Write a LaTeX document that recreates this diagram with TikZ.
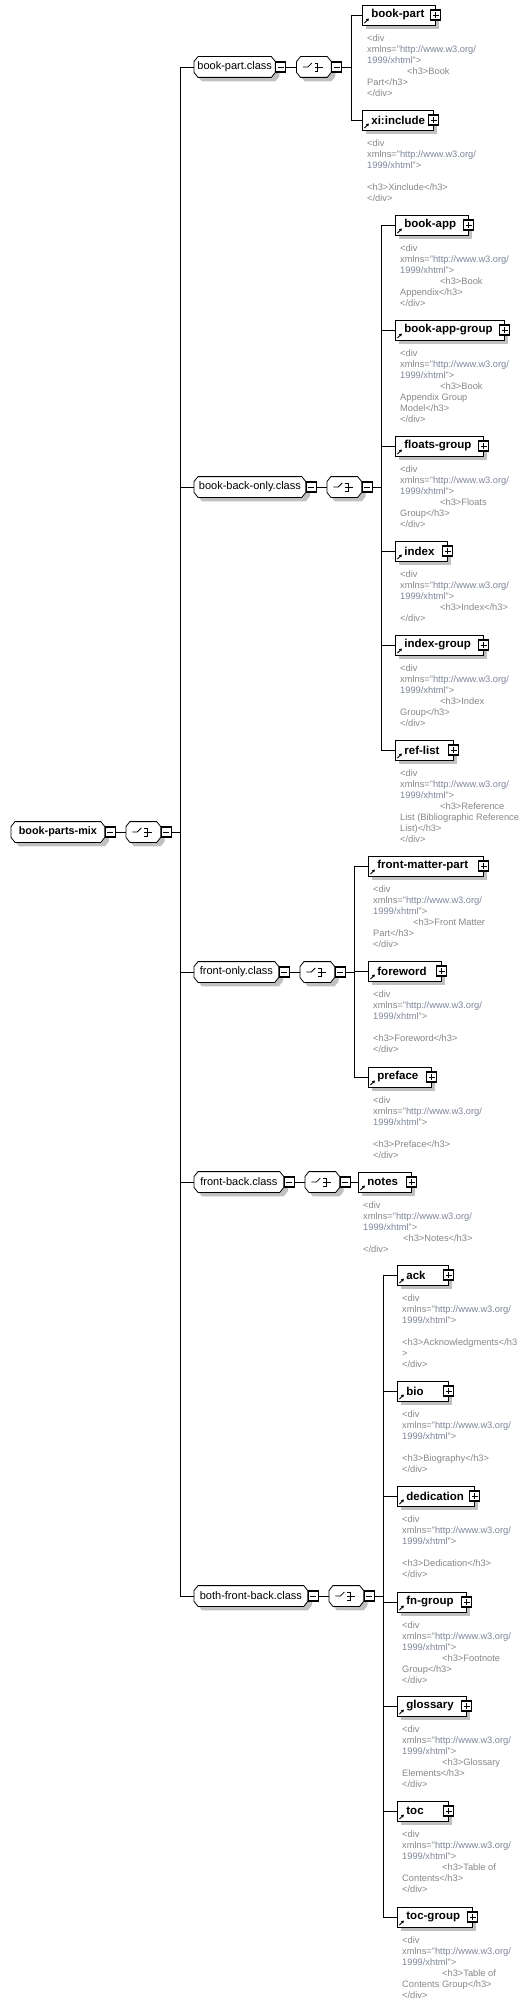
\documentclass[tikz,border=0pt]{standalone}
\usepackage{fontspec}
\setmainfont{Liberation Sans}
\usetikzlibrary{arrows.meta, positioning, shadows}

\definecolor{annogray}{RGB}{135,135,135}
\definecolor{annourl}{RGB}{126,134,154}
\definecolor{boxshadow}{RGB}{192,192,192}

\newcommand{\annofont}{\fontsize{9.3}{11}\selectfont}
\newcommand{\classfont}{\fontsize{11}{13}\selectfont}
\newcommand{\rootfont}{\fontsize{10.8}{13}\selectfont\bfseries}
\newcommand{\elemfont}{\fontsize{11.5}{13}\selectfont\bfseries}
\newcommand{\divhead}{<div\\xmlns="\textcolor{annourl}{http://www.w3.org/}\\\textcolor{annourl}{1999/xhtml}">}
\newcommand{\hthree}[1]{\hspace*{40pt}#1}

% octagon with small cut corners
\newdimen\octL \newdimen\octR \newdimen\octB \newdimen\octT
\makeatletter
\pgfdeclareshape{octabox}{%
  \inheritsavedanchors[from=rectangle]%
  \inheritanchorborder[from=rectangle]%
  \inheritanchor[from=rectangle]{center}%
  \inheritanchor[from=rectangle]{mid}%
  \inheritanchor[from=rectangle]{base}%
  \inheritanchor[from=rectangle]{north}%
  \inheritanchor[from=rectangle]{south}%
  \inheritanchor[from=rectangle]{east}%
  \inheritanchor[from=rectangle]{west}%
  \inheritanchor[from=rectangle]{north east}%
  \inheritanchor[from=rectangle]{north west}%
  \inheritanchor[from=rectangle]{south east}%
  \inheritanchor[from=rectangle]{south west}%
  \backgroundpath{%
    \southwest \global\octL=\pgf@x \global\octB=\pgf@y
    \northeast \global\octR=\pgf@x \global\octT=\pgf@y
    \pgfpathmoveto{\pgfqpoint{\dimexpr\octL+4pt\relax}{\octB}}%
    \pgfpathlineto{\pgfqpoint{\dimexpr\octR-4pt\relax}{\octB}}%
    \pgfpathlineto{\pgfqpoint{\octR}{\dimexpr\octB+5pt\relax}}%
    \pgfpathlineto{\pgfqpoint{\octR}{\dimexpr\octT-5pt\relax}}%
    \pgfpathlineto{\pgfqpoint{\dimexpr\octR-4pt\relax}{\octT}}%
    \pgfpathlineto{\pgfqpoint{\dimexpr\octL+4pt\relax}{\octT}}%
    \pgfpathlineto{\pgfqpoint{\octL}{\dimexpr\octT-5pt\relax}}%
    \pgfpathlineto{\pgfqpoint{\octL}{\dimexpr\octB+5pt\relax}}%
    \pgfpathclose
  }%
}
\makeatother

\tikzset{
  flatshadow/.style={general shadow={fill=boxshadow, shadow xshift=4pt, shadow yshift=-4pt}},
  octa/.style={
    octabox, draw, fill=white, line width=0.8pt,
    minimum height=20pt, inner xsep=3pt, inner ysep=0pt,
    anchor=west, font=\classfont, flatshadow
  },
  seqbox/.style={
    octa, minimum width=34pt,
    path picture={
      \coordinate (c) at (path picture bounding box.center);
      \draw[line width=0.8pt] ([xshift=-11pt]c) -- ([xshift=-6pt]c) -- ([shift={(-2pt,4pt)}]c);
      \foreach \dy in {-4,0,4}
        \fill ([shift={(-1.2pt,\dy pt-1.2pt)}]c) rectangle ++(2.4pt,2.4pt);
      \draw[line width=0.8pt] ([shift={(1pt,4pt)}]c) -- ([shift={(4pt,4pt)}]c)
        -- ([shift={(4pt,-4pt)}]c) -- ([shift={(1pt,-4pt)}]c)
        ([shift={(1pt,0pt)}]c) -- ([shift={(9pt,0pt)}]c);
    }
  },
  sqbox/.style={
    rectangle, draw, fill=white, line width=1.1pt,
    minimum size=10pt, inner sep=0pt
  },
  minusbox/.style={
    sqbox,
    path picture={\draw[line width=0.8pt]
      ([xshift=-3pt]path picture bounding box.center) -- ([xshift=3pt]path picture bounding box.center);}
  },
  plusbox/.style={
    sqbox,
    path picture={\draw[line width=0.8pt]
      ([xshift=-3pt]path picture bounding box.center) -- ([xshift=3pt]path picture bounding box.center)
      ([yshift=-3pt]path picture bounding box.center) -- ([yshift=3pt]path picture bounding box.center);}
  },
  elem/.style={
    rectangle, draw, fill=white, line width=0.8pt,
    minimum height=20pt, text width=#1, inner xsep=0pt, inner ysep=0pt,
    align=left, anchor=west, font=\elemfont, flatshadow,
    execute at begin node=\hspace*{9pt},
    path picture={\draw[line width=0.9pt, -{Triangle[length=2.6pt,width=3pt]}]
      ([shift={(2pt,2pt)}]path picture bounding box.south west) -- ++(4.5pt,4.5pt);}
  },
  annot/.style={align=left, inner sep=0pt, font=\annofont, text=annogray},
  link/.style={line width=0.9pt},
}

\begin{document}
\begin{tikzpicture}[x=1pt, y=-1pt]
  \useasboundingbox (0,0) rectangle (532,2004);

  % root
  \node[octa, font=\rootfont, minimum width=93pt] (mix) at (11,832) {book-parts-mix};
  \node[minusbox, right=0pt of mix] (mix-m) {};
  \node[seqbox, right=10pt of mix-m] (mix-s) {};
  \node[minusbox, right=0pt of mix-s] (mix-sm) {};

  % classes
  \node[octa, minimum width=80pt]  (bpc) at (194,67)   {book-part.class};
  \node[octa, minimum width=111pt] (bbo) at (194,487)  {book-back-only.class};
  \node[octa, minimum width=84pt]  (foc) at (194,972)  {front-only.class};
  \node[octa, minimum width=89pt]  (fbc) at (194,1182) {front-back.class};
  \node[octa, minimum width=113pt] (bfb) at (194,1596) {both-front-back.class};

  \foreach \k in {bpc, bbo, foc, fbc, bfb} {
    \node[minusbox, right=0pt of \k] (\k-m) {};
    \node[seqbox, right=10pt of \k-m] (\k-s) {};
    \node[minusbox, right=0pt of \k-s] (\k-sm) {};
    \draw[link] (\k-m.east) -- (\k-s.west);
  }

  \draw[link] (mix-m.east) -- (mix-s.west);
  \draw[link] (mix-sm.east) -- ++(9pt,0pt) coordinate (rail);
  \foreach \k in {bpc, bbo, foc, fbc, bfb}
    \draw[link] (rail) |- (\k.west);

  % book-part.class
  \node[elem=73pt] (bookpart)  at (362,15)  {book-part};
  \node[elem=71pt] (xiinclude) at (362,120) {xi:include};
  \node[annot, below right=9pt and 5pt of bookpart.south west] (bookpart-a)
       {\divhead\\\hthree{<h3>Book}\\Part</h3>\\</div>};
  \node[annot, below right=9pt and 5pt of xiinclude.south west] (xiinclude-a)
       {\divhead\\[11pt]<h3>Xinclude</h3>\\</div>};

  % book-back-only.class
  \node[elem=73pt]  (bookapp)      at (395,225) {book-app};
  \node[elem=109pt] (bookappgroup) at (395,330) {book-app-group};
  \node[elem=88pt]  (floatsgroup)  at (395,446) {floats-group};
  \node[elem=52pt]  (index)        at (395,551) {index};
  \node[elem=88pt]  (indexgroup)   at (395,645) {index-group};
  \node[elem=58pt]  (reflist)      at (395,750) {ref-list};
  \node[annot, below right=9pt and 5pt of bookapp.south west] (bookapp-a)
       {\divhead\\\hthree{<h3>Book}\\Appendix</h3>\\</div>};
  \node[annot, below right=9pt and 5pt of bookappgroup.south west] (bookappgroup-a)
       {\divhead\\\hthree{<h3>Book}\\Appendix Group\\Model</h3>\\</div>};
  \node[annot, below right=9pt and 5pt of floatsgroup.south west] (floatsgroup-a)
       {\divhead\\\hthree{<h3>Floats}\\Group</h3>\\</div>};
  \node[annot, below right=9pt and 5pt of index.south west] (index-a)
       {\divhead\\\hthree{<h3>Index</h3>}\\</div>};
  \node[annot, below right=9pt and 5pt of indexgroup.south west] (indexgroup-a)
       {\divhead\\\hthree{<h3>Index}\\Group</h3>\\</div>};
  \node[annot, below right=9pt and 5pt of reflist.south west] (reflist-a)
       {\divhead\\\hthree{<h3>Reference}\\List (Bibliographic Reference\\List)</h3>\\</div>};

  % front-only.class
  \node[elem=115pt] (frontmatterpart) at (368,866)  {front-matter-part};
  \node[elem=73pt]  (foreword)        at (368,971)  {foreword};
  \node[elem=63pt]  (preface)         at (368,1077) {preface};
  \node[annot, below right=9pt and 5pt of frontmatterpart.south west] (frontmatterpart-a)
       {\divhead\\\hthree{<h3>Front Matter}\\Part</h3>\\</div>};
  \node[annot, below right=9pt and 5pt of foreword.south west] (foreword-a)
       {\divhead\\[11pt]<h3>Foreword</h3>\\</div>};
  \node[annot, below right=9pt and 5pt of preface.south west] (preface-a)
       {\divhead\\[11pt]<h3>Preface</h3>\\</div>};

  % front-back.class
  \node[elem=53pt] (notes) at (358,1182) {notes};
  \node[annot, below right=9pt and 5pt of notes.south west] (notes-a)
       {\divhead\\\hthree{<h3>Notes</h3>}\\</div>};

  % both-front-back.class
  \node[elem=51pt] (ack)        at (397,1275) {ack};
  \node[elem=51pt] (bio)        at (397,1391) {bio};
  \node[elem=77pt] (dedication) at (397,1496) {dedication};
  \node[elem=69pt] (fngroup)    at (397,1602) {fn-group};
  \node[elem=69pt] (glossary)   at (397,1706) {glossary};
  \node[elem=51pt] (toc)        at (397,1811) {toc};
  \node[elem=75pt] (tocgroup)   at (397,1917) {toc-group};
  \node[annot, below right=9pt and 5pt of ack.south west] (ack-a)
       {\divhead\\[11pt]<h3>Acknowledgments</h3\\>\\</div>};
  \node[annot, below right=9pt and 5pt of bio.south west] (bio-a)
       {\divhead\\[11pt]<h3>Biography</h3>\\</div>};
  \node[annot, below right=9pt and 5pt of dedication.south west] (dedication-a)
       {\divhead\\[11pt]<h3>Dedication</h3>\\</div>};
  \node[annot, below right=9pt and 5pt of fngroup.south west] (fngroup-a)
       {\divhead\\\hthree{<h3>Footnote}\\Group</h3>\\</div>};
  \node[annot, below right=9pt and 5pt of glossary.south west] (glossary-a)
       {\divhead\\\hthree{<h3>Glossary}\\Elements</h3>\\</div>};
  \node[annot, below right=9pt and 5pt of toc.south west] (toc-a)
       {\divhead\\\hthree{<h3>Table of}\\Contents</h3>\\</div>};
  \node[annot, below right=9pt and 5pt of tocgroup.south west] (tocgroup-a)
       {\divhead\\\hthree{<h3>Table of}\\Contents Group</h3>\\</div>};

  \foreach \e in {bookpart, xiinclude, bookapp, bookappgroup, floatsgroup, index,
                  indexgroup, reflist, frontmatterpart, foreword, preface, notes,
                  ack, bio, dedication, fngroup, glossary, toc, tocgroup}
    \node[plusbox] (\e-p) at (\e.east) {};

  % rails to the children
  \draw[link] (bpc-sm.east) -- ++(9pt,0pt) coordinate (bpc-v);
  \foreach \e in {bookpart, xiinclude}
    \draw[link] (bpc-v) |- (\e.west);
  \draw[link] (bbo-sm.east) -- ++(9pt,0pt) coordinate (bbo-v);
  \foreach \e in {bookapp, bookappgroup, floatsgroup, index, indexgroup, reflist}
    \draw[link] (bbo-v) |- (\e.west);
  \draw[link] (foc-sm.east) -- ++(9pt,0pt) coordinate (foc-v);
  \foreach \e in {frontmatterpart, foreword, preface}
    \draw[link] (foc-v) |- (\e.west);
  \draw[link] (fbc-sm.east) -- (notes.west);
  \draw[link] (bfb-sm.east) -- ++(9pt,0pt) coordinate (bfb-v);
  \foreach \e in {ack, bio, dedication, fngroup, glossary, toc, tocgroup}
    \draw[link] (bfb-v) |- (\e.west);
\end{tikzpicture}
\end{document}
